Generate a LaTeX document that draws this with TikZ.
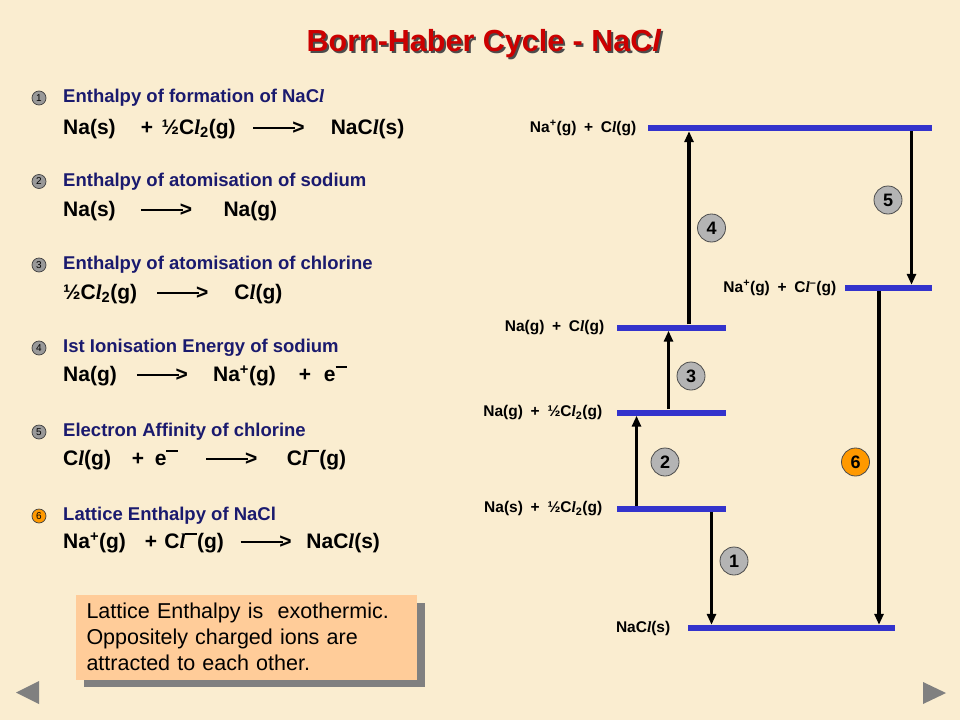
\documentclass[tikz,border=0pt]{standalone}
\usepackage{fontspec}
\setmainfont{Liberation Sans}
\newfontfamily\ellfont{Liberation Serif}
\usetikzlibrary{arrows.meta,positioning}
\definecolor{paper}{HTML}{FAEDD0}
\definecolor{titlered}{HTML}{CC0000}
\definecolor{navy}{HTML}{1A1A6E}
\definecolor{barblue}{HTML}{3333CC}
\definecolor{peach}{HTML}{FFCC99}
\definecolor{greyshadow}{HTML}{808080}
\definecolor{badge}{HTML}{B4B4B4}
\definecolor{amber}{HTML}{FF9900}
\newcommand\itl{{\ellfont\itshape l}}
\newcommand\chl{C\itl}
\newcommand\yld{\rule[0.28em]{2.0em}{2pt}\kern-0.15em>}
\newcommand\mbar{\raisebox{0.68em}{\rule{0.55em}{1.8pt}}}
\newcommand\shadowed[1]{\makebox[0pt][l]{\kern2pt\raisebox{-2pt}{\textcolor{black!70}{#1}}}#1}

\begin{document}
\begin{tikzpicture}[x=1pt,y=-1pt,
      lvl/.style={fill=barblue,inner sep=0pt,minimum height=6pt},
      lab/.style={font=\bfseries\fontsize{15.5}{18}\selectfont},
      arr/.style={line width=3.2pt,-{Triangle[length=11pt,width=9pt]}},
      num/.style={circle,draw=black!70,line width=0.8pt,fill=badge,minimum size=28pt,
                  inner sep=0pt,font=\bfseries\fontsize{18}{18}\selectfont},
      dot/.style={circle,draw=black!75,line width=0.7pt,fill=badge!85!black,minimum size=14pt,
                  inner sep=0pt,font=\fontsize{10}{10}\selectfont},
      head/.style={anchor=west,inner xsep=0pt,text=navy,font=\bfseries\fontsize{18.5}{20}\selectfont},
      eqn/.style={anchor=west,inner xsep=0pt,font=\bfseries\fontsize{21}{24}\selectfont}]
    \fill[paper] (0,0) rectangle (960,720);
    \useasboundingbox (0,0) rectangle (960,720);

    % title
    \node[text=titlered,font=\bfseries\fontsize{30.5}{34}\selectfont] (title) at (484,45)
      {\shadowed{Born-Haber Cycle - NaC\textit{l}}};

    % list of steps
    \foreach \i/\y in {1/98,2/181.5,3/265,4/348,5/432}{
      \node[dot] (d\i) at (39,\y) {\i};}
    \node[dot,fill=amber] (d6) at (39,516) {6};

    \node[head] (h1) at (63,98) {Enthalpy of formation of NaC\itl};
    \node[eqn] (e1) at (63,129) {Na(s)\hspace{1.2em}+\hspace{0.4em}½\chl\textsubscript{2}(g)\hspace{0.85em}\yld\hspace{1.25em}NaC\itl(s)};
    \node[head] (h2) at (63,181.5) {Enthalpy of atomisation of sodium};
    \node[eqn] (e2) at (63,211.5) {Na(s)\hspace{1.2em}\yld\hspace{1.5em}Na(g)};
    \node[head] (h3) at (63,265) {Enthalpy of atomisation of chlorine};
    \node[eqn] (e3) at (63,294) {½\chl\textsubscript{2}(g)\hspace{0.95em}\yld\hspace{1.25em}\chl(g)};
    \node[head] (h4) at (63,348) {Ist Ionisation Energy of sodium};
    \node[eqn] (e4) at (63,376) {Na(g)\hspace{0.95em}\yld\hspace{1.2em}Na\textsuperscript{+}(g)\hspace{1.1em}+\hspace{0.6em}e\mbar};
    \node[head] (h5) at (63,432) {Electron Affinity of chlorine};
    \node[eqn] (e5) at (63,460) {\chl(g)\hspace{1em}+\hspace{0.5em}e\mbar\hspace{1.35em}\yld\hspace{1.4em}\chl\mbar(g)};
    \node[head] (h6) at (63,516) {Lattice Enthalpy of NaCl};
    \node[eqn] (e6) at (63,543) {Na\textsuperscript{+}(g)\hspace{0.9em}+\hspace{0.35em}\chl\mbar(g)\hspace{0.8em}\yld\hspace{0.7em}NaC\itl(s)};

    % note
    \fill[greyshadow] (84,603) rectangle (425,687);
    \node[fill=peach,minimum width=341pt,minimum height=85pt,text width=320pt,
          align=left,font=\fontsize{21.5}{26}\selectfont] (note) at (246.5,637)
      {Lattice Enthalpy is \ exothermic.\\ Oppositely charged ions are\\ attracted to each other.};

    % levels
    \node[lvl,minimum width=284pt] (ltop)  at (790,128) {};
    \node[lvl,minimum width=87pt]  (lion)  at (888.5,288) {};
    \node[lvl,minimum width=109pt] (lgas)  at (671.5,327.5) {};
    \node[lvl,minimum width=109pt] (lhalf) at (671.5,412.5) {};
    \node[lvl,minimum width=109pt] (lsol)  at (671.5,509) {};
    \node[lvl,minimum width=207pt] (lnacl) at (791.5,628) {};

    \node[lab,left=8pt of ltop]   (tt) {Na\textsuperscript{+}(g)\hspace{0.5em}+\hspace{0.5em}\chl(g)};
    \node[lab,left=5pt of lion]   (ti) {Na\textsuperscript{+}(g)\hspace{0.5em}+\hspace{0.5em}\chl\textsuperscript{--}(g)};
    \node[lab,left=9pt of lgas]   (tg) {Na(g)\hspace{0.5em}+\hspace{0.5em}\chl(g)};
    \node[lab,left=11pt of lhalf] (th) {Na(g)\hspace{0.5em}+\hspace{0.5em}½\chl\textsubscript{2}(g)};
    \node[lab,left=11pt of lsol]  (ts) {Na(s)\hspace{0.5em}+\hspace{0.5em}½\chl\textsubscript{2}(g)};
    \node[lab,left=14pt of lnacl] (tn) {NaC\itl(s)};

    % steps
    \foreach \i/\x in {1/711.5,2/636.5,3/668.5,4/689,5/911.5,6/879}{
      \coordinate (c\i) at (\x,0);}
    \draw[arr] (lsol.south -| c1) -- (lnacl.north -| c1);
    \draw[arr] (lsol.north -| c2) -- (lhalf.south -| c2);
    \draw[arr] (lhalf.north -| c3) -- (lgas.south -| c3);
    \draw[arr] (lgas.north -| c4) -- (ltop.south -| c4);
    \draw[arr] (ltop.south -| c5) -- (lion.north -| c5);
    \draw[arr] (lion.south -| c6) -- (lnacl.north -| c6);

    \node[num] (n1) at (734,561) {1};
    \node[num] (n2) at (665,462) {2};
    \node[num] (n3) at (691,376) {3};
    \node[num] (n4) at (711.5,228) {4};
    \node[num] (n5) at (888,200) {5};
    \node[num,fill=amber] (n6) at (855.5,462) {6};

    % navigation
    \fill[greyshadow] (16,692.5) -- (39,681) -- (39,704) -- cycle;
    \fill[greyshadow] (923,682) -- (946,693) -- (923,704) -- cycle;
  \end{tikzpicture}
\end{document}
